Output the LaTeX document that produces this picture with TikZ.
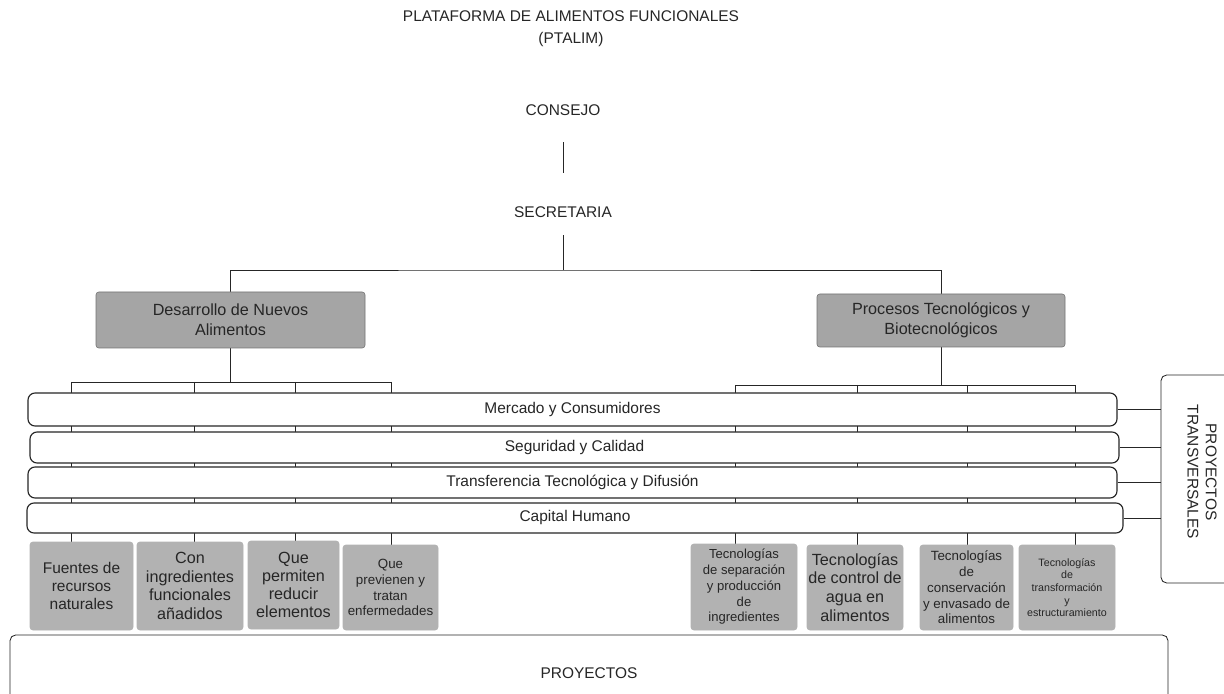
\documentclass[tikz,border=0pt]{standalone}
\usepackage{fontspec}
\setmainfont{Liberation Sans}
\usetikzlibrary{backgrounds}
\definecolor{boxgray}{RGB}{165,165,165}
\definecolor{leafgray}{RGB}{178,178,178}
\newcommand{\unitpx}{0.025cm}
\newcommand{\fs}[2]{\fontsize{#1}{#2}\selectfont}

\begin{document}
\begin{tikzpicture}[x=\unitpx, y=-\unitpx,
    every node/.style={text=black!85},
    boxsize/.style 2 args={minimum width=#1*\unitpx, minimum height=#2*\unitpx},
    conn/.style={draw=black!85, line width=0.6pt},
    areabox/.style={draw=black!55, fill=boxgray, rounded corners=2pt, inner sep=0pt, align=center, font=\fs{11.5}{14}},
    band/.style={draw=black!85, fill=white, rounded corners=5pt, line width=0.8pt, inner sep=0pt, font=\fs{11}{13}},
    leaf/.style={draw=black!30, fill=leafgray, rounded corners=2pt, inner sep=0pt, align=center},
    frame/.style={draw=black!85, fill=white, rounded corners=4pt, line width=0.6pt, inner sep=0pt}]
    \useasboundingbox (0,0) rectangle (1224,694);

    % cabecera
    \node[font=\fs{11}{15.5}, align=center] (title) at (571,29) {PLATAFORMA DE ALIMENTOS FUNCIONALES\\(PTALIM)};
    \node[font=\fs{11}{13}] (consejo) at (563,110) {CONSEJO};
    \node[font=\fs{11}{13}] (secretaria) at (563,212) {SECRETARIA};
    \coordinate (topbus) at (563,270);

    % areas
    \node[areabox, boxsize={269}{56}] (desarrollo) at (230.5,320) {Desarrollo de Nuevos\\Alimentos};
    \node[areabox, boxsize={248}{53}] (procesos) at (941,320.5) {Procesos Tecnológicos y\\Biotecnológicos};

    \coordinate (l1) at (71,382);
    \coordinate (l2) at (194,382);
    \coordinate (l3) at (295,382);
    \coordinate (l4) at (391,382);
    \coordinate (r1) at (735,385);
    \coordinate (r2) at (857,385);
    \coordinate (r3) at (967,385);
    \coordinate (r4) at (1075,385);

    % proyectos transversales
    \node[band, boxsize={1089}{33}] (mercado) at (572.5,409.5) {Mercado y Consumidores};
    \node[band, boxsize={1089}{31}] (seguridad) at (574.5,447.5) {Seguridad y Calidad};
    \node[band, boxsize={1089}{31}] (transferencia) at (572.5,482.5) {Transferencia Tecnológica y Difusión};
    \node[band, boxsize={1096}{30}] (capital) at (575,518) {Capital Humano};

    \node[frame, boxsize={82}{208}] (transv) at (1202,479) {};
    \node[rotate=-90, align=center, font=\fs{11}{13}] (transvtxt) at (1202,472) {PROYECTOS\\TRANSVERSALES};

    % lineas de desarrollo de nuevos alimentos
    \node[leaf, boxsize={103}{88}, font=\fs{11}{13}] (f1) at (81.5,586) {Fuentes de\\recursos\\naturales};
    \node[leaf, boxsize={106}{88}, font=\fs{11.5}{13.3}] (f2) at (190,586) {Con\\ingredientes\\funcionales\\añadidos};
    \node[leaf, boxsize={91}{88}, font=\fs{11.5}{13}] (f3) at (293.5,585) {Que\\permiten\\reducir\\elementos};
    \node[leaf, boxsize={95}{85}, font=\fs{9.5}{11.3}] (f4) at (390.5,587.5) {Que\\previenen y\\tratan\\enfermedades};

    % lineas de procesos
    \node[leaf, boxsize={106}{86}, font=\fs{9.3}{11.2}] (t1) at (744,587) {Tecnologías\\de separación\\y producción\\de\\ingredientes};
    \node[leaf, boxsize={96}{85}, font=\fs{11.5}{13.4}] (t2) at (855,587.5) {Tecnologías\\de control de\\agua en\\alimentos};
    \node[leaf, boxsize={93}{85}, font=\fs{9.5}{11.2}] (t3) at (966.5,587.5) {Tecnologías\\de\\conservación\\y envasado de\\alimentos};
    \node[leaf, boxsize={96}{85}, font=\fs{7.6}{9}] (t4) at (1067,587.5) {Tecnologías\\de\\transformación\\y\\estructuramiento};

    \node[frame, boxsize={1158}{77}, font=\fs{11}{13}] (proyectos) at (589,673.5) {PROYECTOS};

    \begin{scope}[on background layer]
        \draw[conn, shorten <=0.8cm, shorten >=0.975cm] (consejo.center) -- (secretaria.center);
        \draw[conn, shorten <=0.575cm] (secretaria.center) -- (topbus);
        \draw[conn] (desarrollo.north) |- (topbus) -| (procesos.north);
        \draw[conn] (desarrollo.south) -- (desarrollo.south |- l1);
        \draw[conn] (procesos.south) -- (procesos.south |- r1);
        \draw[conn] (l1) -- (l4);
        \draw[conn] (r1) -- (r4);
        \foreach \i in {1,...,4} {
            \draw[conn] (l\i) -- (l\i |- f\i.north);
            \draw[conn] (r\i) -- (r\i |- t\i.north);
        }
    \end{scope}
    \foreach \b in {mercado,seguridad,transferencia,capital}
        \draw[conn] (\b.east) -- (\b.east -| transv.west);
\end{tikzpicture}
\end{document}
